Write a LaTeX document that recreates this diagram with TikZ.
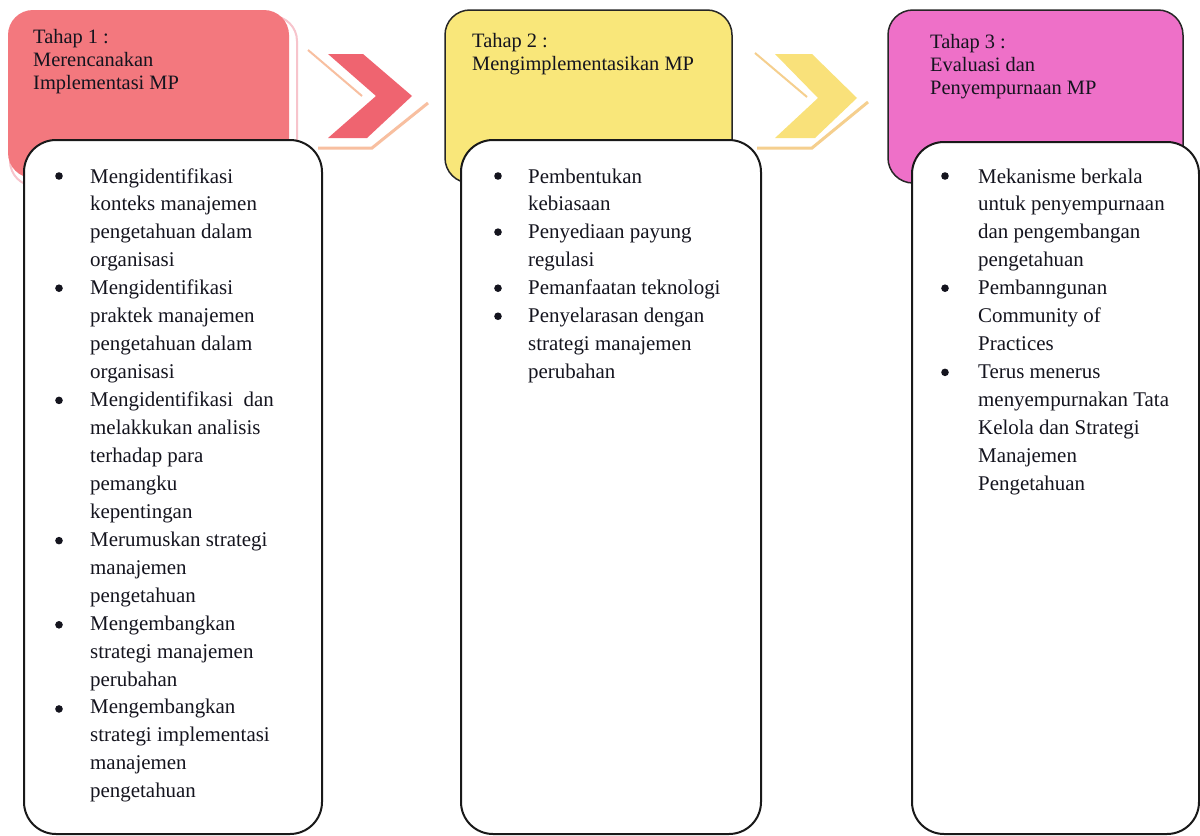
\documentclass[tikz,border=0pt]{standalone}
\usepackage{fontspec}
\setmainfont{Liberation Serif}
\usepackage{array}
\definecolor{hred}{HTML}{F3787E}
\definecolor{hyellow}{HTML}{F9E77A}
\definecolor{hpink}{HTML}{EE70C8}
\definecolor{chevred}{HTML}{EF6470}
\definecolor{chevyellow}{HTML}{F9E17A}
\definecolor{reflred}{HTML}{F8BFA0}
\definecolor{reflyellow}{HTML}{F5CF8E}
\definecolor{shadowpink}{HTML}{F7C4CC}
\definecolor{textc}{HTML}{14141E}
\begin{document}
\begin{tikzpicture}[x=1bp,y=-1bp,
  txt/.style={inner sep=0pt, anchor=base west, text=textc},
  headfont/.style={font={\fontsize{20.5}{23.5}\selectfont}},
  listfont/.style={font={\fontsize{21}{28.05}\selectfont}},
  headbox/.style={draw=black!85, line width=1.5bp, rounded corners=25bp},
  listbox/.style={fill=white, draw=black!90, line width=2bp, rounded corners=32bp},
  refl/.style={line width=2bp},
  bulletdot/.style={fill=textc}]
\useasboundingbox (0,0) rectangle (1200,836);
\fill[white] (0,0) rectangle (1200,836);
% header boxes
\draw[shadowpink, line width=2bp, rounded corners=25bp] (10,16) rectangle (297,186);
\fill[hred, rounded corners=25bp] (8,10) rectangle (289,178);
\filldraw[headbox, fill=hyellow] (445,10) rectangle (732,183);
\filldraw[headbox, fill=hpink] (888,10) rectangle (1183,183);
% chevron 1
\draw[refl, reflred] (308,50) -- (362,96);
\draw[refl, reflred, line width=3bp] (318,148) -- (372,148) -- (428,103);
\fill[chevred] (328,54) -- (363,54) -- (412,96) -- (367,138) -- (328,138) -- (376,96) -- cycle;
% chevron 2
\draw[refl, reflyellow] (755,53) -- (807,97);
\draw[refl, reflyellow, line width=3bp] (757,148) -- (812,148) -- (868,102);
\fill[chevyellow] (775,54) -- (812,54) -- (857,98) -- (815,138) -- (775,138) -- (818,98) -- cycle;
% list boxes
\filldraw[listbox] (24,140) rectangle (322,834);
\filldraw[listbox] (461,140) rectangle (761,834);
\filldraw[listbox] (912,142) rectangle (1199,834);
% bullets
\foreach \r in {0,4,8,13,16,19} \fill[bulletdot] (59,{176+\r*28.05}) circle (3.8);
\foreach \r in {0,2,4,5} \fill[bulletdot] (498,{176+\r*28.05}) circle (3.8);
\foreach \r in {0,4,7} \fill[bulletdot] (945,{176+\r*28.05}) circle (3.8);
% header texts
\node[txt, headfont] (h1) at (33,43) {\begin{tabular}[t]{@{}l@{}}Tahap 1 :\\Merencanakan\\Implementasi MP\end{tabular}};
\node[txt, headfont] (h2) at (472,47) {\begin{tabular}[t]{@{}l@{}}Tahap 2 :\\Mengimplementasikan MP\end{tabular}};
\node[txt, headfont] (h3) at (930,48) {\begin{tabular}[t]{@{}l@{}}Tahap 3 :\\Evaluasi dan\\Penyempurnaan MP\end{tabular}};
% list texts
\node[txt, listfont] (l1) at (90,183) {\begin{tabular}[t]{@{}l@{}}
Mengidentifikasi\\
konteks manajemen\\
pengetahuan dalam\\
organisasi\\
Mengidentifikasi\\
praktek manajemen\\
pengetahuan dalam\\
organisasi\\
Mengidentifikasi~ dan\\
melakkukan analisis\\
terhadap para\\
pemangku\\
kepentingan\\
Merumuskan strategi\\
manajemen\\
pengetahuan\\
Mengembangkan\\
strategi manajemen\\
perubahan\\
Mengembangkan\\
strategi implementasi\\
manajemen\\
pengetahuan
\end{tabular}};
\node[txt, listfont] (l2) at (528,183) {\begin{tabular}[t]{@{}l@{}}
Pembentukan\\
kebiasaan\\
Penyediaan payung\\
regulasi\\
Pemanfaatan teknologi\\
Penyelarasan dengan\\
strategi manajemen\\
perubahan
\end{tabular}};
\node[txt, listfont] (l3) at (978,183) {\begin{tabular}[t]{@{}l@{}}
Mekanisme berkala\\
untuk penyempurnaan\\
dan pengembangan\\
pengetahuan\\
Pembanngunan\\
Community of\\
Practices\\
Terus menerus\\
menyempurnakan Tata\\
Kelola dan Strategi\\
Manajemen\\
Pengetahuan
\end{tabular}};
\end{tikzpicture}
\end{document}
